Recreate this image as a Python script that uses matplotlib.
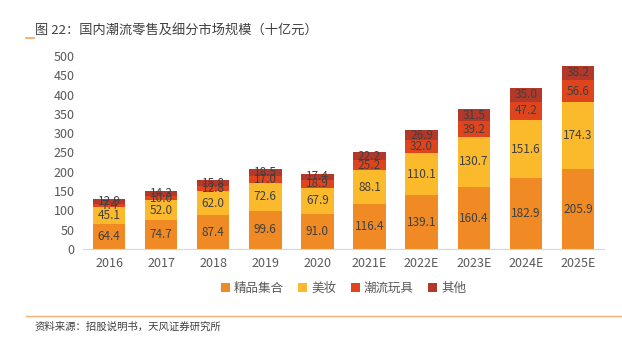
import matplotlib
matplotlib.use('Agg')
import matplotlib.pyplot as plt
import numpy as np

plt.rcParams['font.family'] = ['Noto Sans CJK SC', 'DejaVu Sans']

years = ['2016', '2017', '2018', '2019', '2020', '2021E', '2022E', '2023E', '2024E', '2025E']
boutique = [64.4, 74.7, 87.4, 99.6, 91.0, 116.4, 139.1, 160.4, 182.9, 205.9]
cosmetics = [45.1, 52.0, 62.0, 72.6, 67.9, 88.1, 110.1, 130.7, 151.6, 174.3]
toys = [7.4, 10.0, 12.8, 17.0, 18.9, 25.2, 32.0, 39.2, 47.2, 56.6]
others = [12.9, 14.3, 15.8, 18.5, 17.4, 22.2, 26.9, 31.5, 35.0, 38.2]
names = ['精品集合', '美妆', '潮流玩具', '其他']
colors = ['#F08A24', '#FBBA2C', '#E0441C', '#B2382A']

fig = plt.figure(figsize=(6.22, 3.43), dpi=100)
ax = fig.add_axes([0.1335, 0.274, 0.8375, 0.563])

x = np.arange(len(years))
bottom = np.zeros(len(years))
for vals, name, c in zip([boutique, cosmetics, toys, others], names, colors):
    bars = ax.bar(x, vals, 0.62, bottom=bottom, color=c, label=name)
    for xi, b, v in zip(x, bottom, vals):
        ax.text(xi, b + v / 2, '%.1f' % v, ha='center', va='center',
                fontsize=8.5, color='#404040')
    bottom += np.array(vals)

ax.set_ylim(0, 500)
ax.set_xlim(-0.5, len(years) - 0.5)
ax.set_yticks(range(0, 501, 50))
ax.set_xticks(x)
ax.set_xticklabels(years)
ax.tick_params(length=0, labelsize=9, colors='#595959', pad=6)
for s in ['top', 'right', 'left']:
    ax.spines[s].set_visible(False)
ax.spines['bottom'].set_color('#D9D9D9')

ax.legend(loc='upper center', bbox_to_anchor=(0.5, -0.11), ncol=4, frameon=False,
          fontsize=9, labelcolor='#595959', handlelength=0.7, handleheight=0.7,
          handletextpad=0.3, columnspacing=1.2)

fig.text(0.056, 0.91, '图 22：国内潮流零售及细分市场规模（十亿元）', fontsize=9.5,
         color='#404040', va='center')
fig.add_artist(plt.Line2D([0.042, 0.054], [0.889, 0.889], color='#F5A35C', lw=1.2))
fig.add_artist(plt.Line2D([0.042, 1.0], [0.079, 0.079], color='#F5B07A', lw=1.0))
fig.text(0.056, 0.048, '资料来源：招股说明书，天风证券研究所', fontsize=7.5,
         color='#404040', va='center')

fig.savefig('out.png', dpi=100)
